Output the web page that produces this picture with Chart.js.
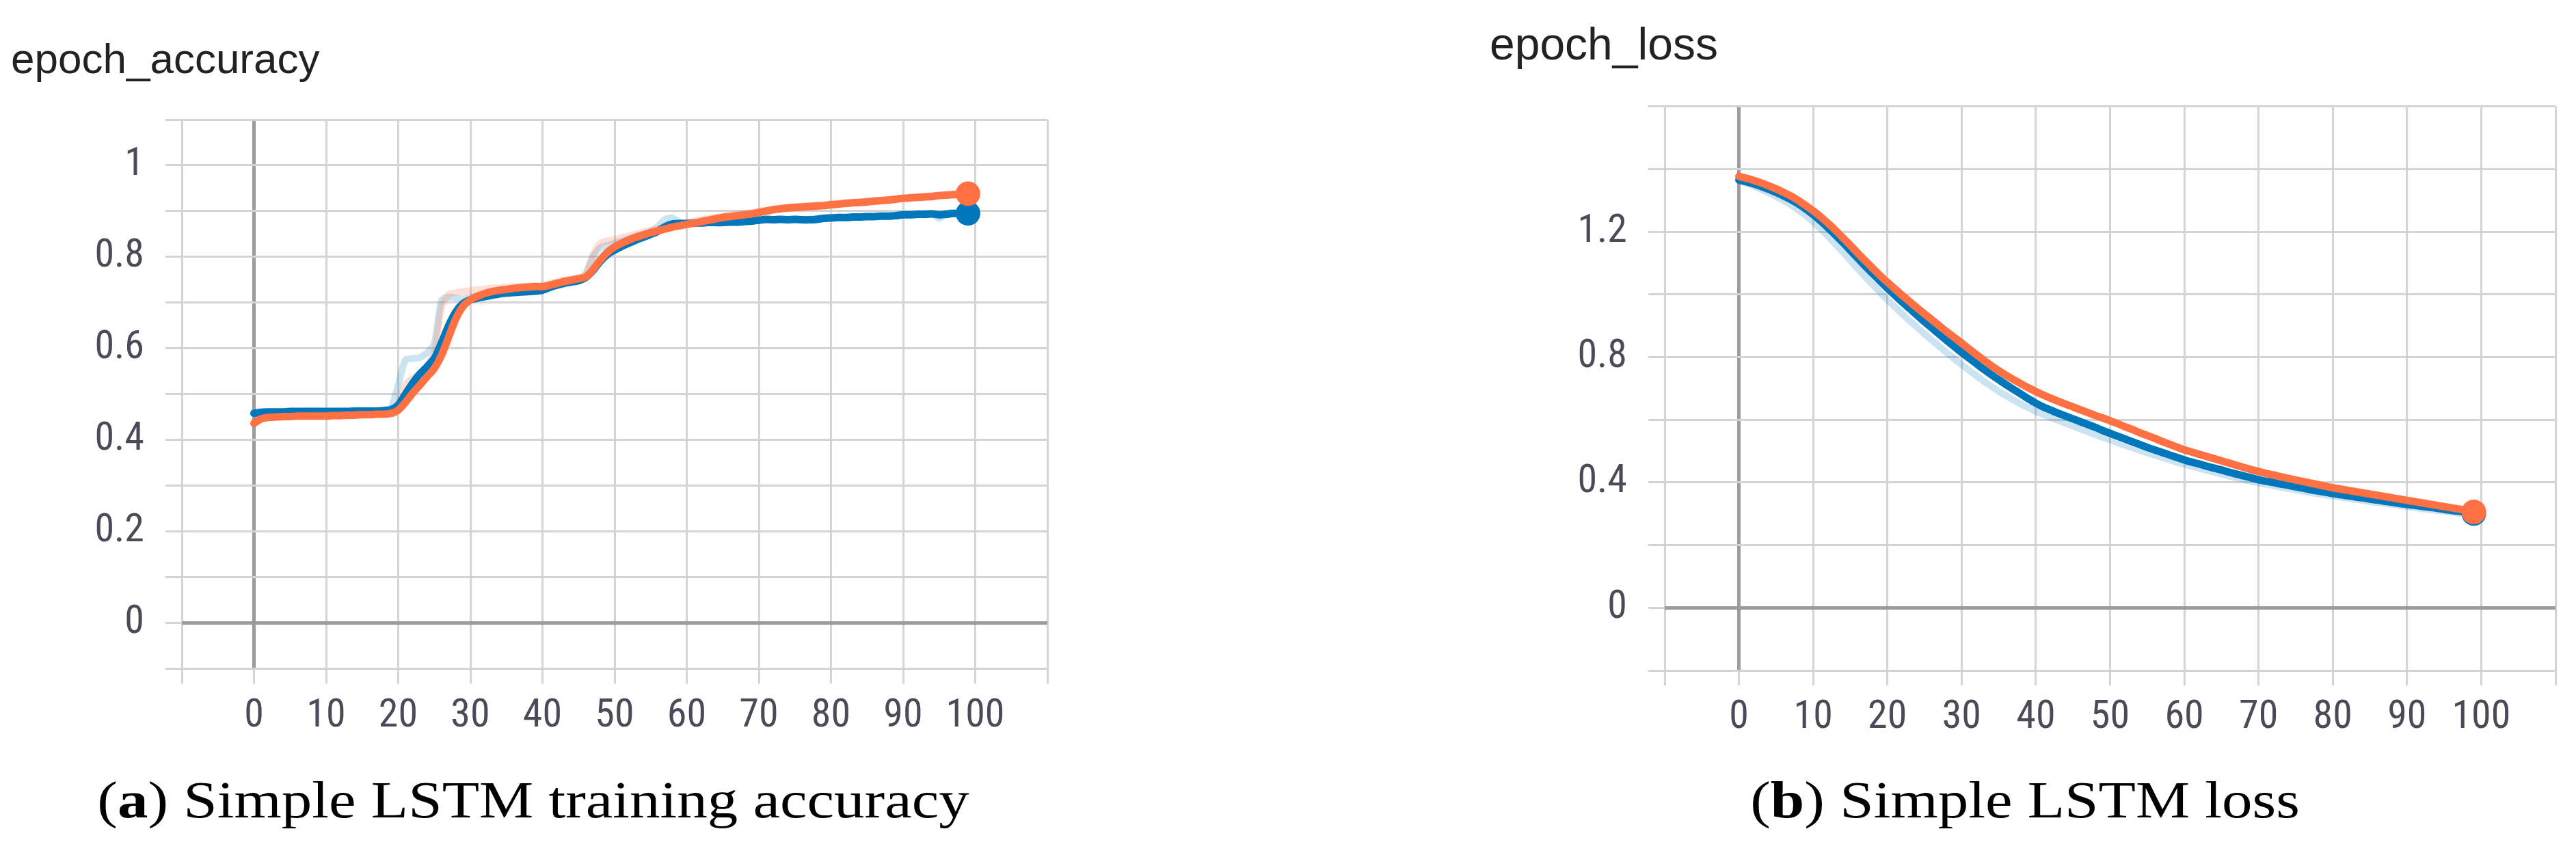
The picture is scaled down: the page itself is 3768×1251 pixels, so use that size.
<!DOCTYPE html>
<html>
<head>
<meta charset="utf-8">
<script src="https://cdn.jsdelivr.net/npm/chart.js@4.4.1/dist/chart.umd.min.js"></script>
<style>
  html, body { margin: 0; padding: 0; background: #ffffff; }
  body { width: 3768px; height: 1251px; position: relative; overflow: hidden; }
  canvas { position: absolute; top: 0; }
  #c1 { left: 16px; }
  #c2 { left: 2179px; }
  .cap { position: absolute; top: 1132px; width: 1400px; text-align: center;
         font-family: 'Liberation Serif', 'DejaVu Serif', serif; font-size: 77px;
         line-height: 77px; color: #000; white-space: nowrap;
         transform: scaleX(1.156); transform-origin: 50% 50%; }
  #cap1 { left: 80px; }
  #cap2 { left: 2262px; }
</style>
</head>
<body>
<canvas id="c1" width="1544" height="1110"></canvas>
<canvas id="c2" width="1589" height="1110"></canvas>
<div class="cap" id="cap1">(<b>a</b>) Simple LSTM training accuracy</div>
<div class="cap" id="cap2">(<b>b</b>) Simple LSTM loss</div>
<script>
// ---------- data ----------
const epochs = [
  0,1,2,3,4,5,6,7,8,9,10,11,12,13,14,15,16,17,18,19,
  20,21,22,23,24,25,26,27,28,29,30,31,32,33,34,35,36,37,38,39,
  40,41,42,43,44,45,46,47,48,49,50,51,52,53,54,55,56,57,58,59,
  60,61,62,63,64,65,66,67,68,69,70,71,72,73,74,75,76,77,78,79,
  80,81,82,83,84,85,86,87,88,89,90,91,92,93,94,95,96,97,98,99
];

const xTickLabels = ['0','10','20','30','40','50','60','70','80','90','100'];
const accYTickLabels = ['0','0.2','0.4','0.6','0.8','1'];
const lossYTickLabels = ['0','0.4','0.8','1.2'];

// accuracy, smoothed (blue run)
const accBlue = [
  0.458,0.460,0.461,0.461,0.461,0.462,0.462,0.462,0.462,0.462,
  0.462,0.462,0.462,0.462,0.463,0.463,0.463,0.463,0.464,0.466,
  0.476,0.500,0.524,0.544,0.560,0.578,0.612,0.650,0.680,0.698,
  0.706,0.710,0.713,0.716,0.719,0.721,0.722,0.723,0.724,0.725,
  0.727,0.733,0.738,0.742,0.745,0.748,0.755,0.770,0.790,0.805,
  0.815,0.823,0.830,0.837,0.843,0.849,0.856,0.866,0.872,0.873,
  0.873,0.874,0.874,0.875,0.875,0.875,0.876,0.876,0.877,0.878,
  0.880,0.882,0.881,0.882,0.881,0.882,0.881,0.881,0.882,0.884,
  0.885,0.886,0.886,0.887,0.887,0.888,0.888,0.889,0.889,0.890,
  0.892,0.892,0.893,0.893,0.894,0.892,0.893,0.895,0.894,0.895
];
// accuracy, smoothed (orange run)
const accOrange = [
  0.436,0.446,0.449,0.450,0.451,0.451,0.452,0.452,0.452,0.452,
  0.452,0.453,0.453,0.454,0.454,0.455,0.455,0.456,0.456,0.458,
  0.465,0.482,0.502,0.520,0.538,0.556,0.585,0.625,0.665,0.692,
  0.706,0.714,0.720,0.724,0.727,0.729,0.731,0.733,0.734,0.735,
  0.735,0.738,0.742,0.746,0.749,0.752,0.756,0.772,0.793,0.810,
  0.822,0.830,0.837,0.843,0.848,0.853,0.857,0.861,0.865,0.868,
  0.871,0.874,0.877,0.880,0.883,0.886,0.888,0.890,0.892,0.894,
  0.897,0.900,0.903,0.905,0.907,0.908,0.909,0.910,0.911,0.912,
  0.914,0.915,0.917,0.918,0.919,0.920,0.922,0.923,0.924,0.926,
  0.928,0.929,0.930,0.931,0.932,0.934,0.935,0.936,0.937,0.938
];
// accuracy, raw (faint)
const accBlueRaw = [
  0.460,0.462,0.462,0.461,0.462,0.463,0.462,0.462,0.463,0.462,
  0.462,0.461,0.463,0.462,0.463,0.464,0.463,0.464,0.465,0.470,
  0.520,0.575,0.578,0.580,0.590,0.610,0.705,0.712,0.710,0.708,
  0.712,0.714,0.716,0.720,0.722,0.723,0.723,0.724,0.725,0.726,
  0.730,0.738,0.742,0.745,0.748,0.750,0.762,0.800,0.820,0.825,
  0.830,0.835,0.840,0.845,0.850,0.856,0.866,0.882,0.885,0.876,
  0.873,0.875,0.874,0.876,0.875,0.876,0.877,0.876,0.878,0.880,
  0.884,0.881,0.882,0.883,0.880,0.883,0.880,0.882,0.884,0.886,
  0.886,0.887,0.886,0.888,0.888,0.889,0.888,0.890,0.890,0.891,
  0.893,0.892,0.894,0.893,0.895,0.884,0.895,0.897,0.894,0.896
];
const accOrangeRaw = [
  0.440,0.450,0.451,0.451,0.452,0.452,0.452,0.453,0.452,0.453,
  0.453,0.454,0.454,0.455,0.455,0.456,0.456,0.457,0.457,0.460,
  0.480,0.520,0.535,0.545,0.560,0.590,0.690,0.718,0.722,0.724,
  0.726,0.728,0.730,0.732,0.733,0.734,0.735,0.736,0.736,0.736,
  0.737,0.742,0.746,0.750,0.752,0.755,0.762,0.805,0.830,0.835,
  0.838,0.842,0.846,0.850,0.855,0.858,0.862,0.866,0.869,0.872,
  0.875,0.878,0.881,0.884,0.887,0.889,0.891,0.893,0.895,0.897,
  0.900,0.903,0.905,0.907,0.909,0.910,0.911,0.912,0.913,0.914,
  0.916,0.917,0.918,0.919,0.920,0.922,0.923,0.924,0.926,0.927,
  0.929,0.930,0.931,0.932,0.934,0.935,0.936,0.937,0.938,0.939
];

// loss, smoothed
const lossOrange = [
  1.377,1.371,1.364,1.356,1.347,1.337,1.326,1.314,1.300,1.284,
  1.267,1.248,1.227,1.205,1.181,1.157,1.132,1.108,1.084,1.061,
  1.039,1.018,0.997,0.977,0.957,0.938,0.919,0.900,0.881,0.863,
  0.845,0.826,0.808,0.790,0.773,0.757,0.742,0.728,0.715,0.702,
  0.690,0.679,0.669,0.659,0.650,0.641,0.632,0.623,0.614,0.606,
  0.597,0.588,0.578,0.569,0.559,0.550,0.541,0.531,0.522,0.513,
  0.504,0.497,0.490,0.483,0.476,0.469,0.462,0.455,0.448,0.441,
  0.435,0.429,0.424,0.418,0.413,0.408,0.403,0.398,0.393,0.388,
  0.383,0.379,0.375,0.371,0.367,0.363,0.359,0.355,0.351,0.347,
  0.343,0.339,0.335,0.331,0.327,0.323,0.319,0.315,0.311,0.306
];
const lossBlue = [
  1.366,1.360,1.353,1.345,1.336,1.326,1.315,1.303,1.289,1.273,
  1.255,1.235,1.213,1.190,1.166,1.141,1.116,1.091,1.067,1.043,
  1.020,0.998,0.976,0.955,0.934,0.913,0.893,0.873,0.853,0.834,
  0.815,0.797,0.779,0.761,0.744,0.728,0.712,0.697,0.682,0.667,
  0.653,0.641,0.631,0.621,0.612,0.603,0.594,0.585,0.576,0.566,
  0.557,0.548,0.539,0.530,0.521,0.512,0.504,0.496,0.488,0.480,
  0.472,0.465,0.459,0.452,0.446,0.440,0.433,0.427,0.421,0.415,
  0.409,0.404,0.400,0.395,0.391,0.386,0.382,0.377,0.373,0.369,
  0.365,0.361,0.358,0.354,0.351,0.347,0.344,0.340,0.337,0.333,
  0.330,0.327,0.324,0.321,0.318,0.314,0.311,0.308,0.305,0.301
];
// loss, raw (faint)
const lossBlueRaw = [
  1.362,1.355,1.346,1.336,1.325,1.313,1.300,1.286,1.270,1.252,
  1.232,1.210,1.186,1.161,1.135,1.109,1.083,1.057,1.032,1.007,
  0.983,0.960,0.938,0.916,0.895,0.874,0.854,0.834,0.814,0.795,
  0.776,0.758,0.740,0.723,0.707,0.691,0.677,0.663,0.650,0.638,
  0.627,0.617,0.607,0.598,0.589,0.580,0.571,0.562,0.553,0.544,
  0.536,0.527,0.519,0.511,0.503,0.495,0.487,0.480,0.472,0.465,
  0.458,0.452,0.445,0.439,0.433,0.427,0.421,0.415,0.409,0.404,
  0.399,0.394,0.390,0.385,0.381,0.377,0.372,0.368,0.364,0.360,
  0.357,0.353,0.350,0.346,0.343,0.339,0.336,0.333,0.330,0.326,
  0.323,0.320,0.317,0.314,0.311,0.308,0.305,0.302,0.299,0.296
];

// ---------- styling ----------
const BLUE = '#0077bb';
const ORANGE = '#ff7043';
const BLUE_FAINT = 'rgba(0,119,187,0.20)';
const ORANGE_FAINT = 'rgba(255,112,67,0.22)';
const GRID = '#d4d4d4';
const ZERO = '#9c9c9c';
const TICK_COLOR = '#4a4a58';
const TICK_FONT = { family: "'Liberation Sans Narrow', 'Roboto Condensed', 'Roboto', sans-serif", size: 58, weight: 'normal', lineHeight: 1.2 };

function pts(vals) { return vals.map((v, i) => ({ x: epochs[i], y: v })); }
function fmt(v) { return String(Math.round(v * 10) / 10); }
const lastDot = (ctx) => (ctx.dataIndex === epochs.length - 1 ? 18 : 0);

function mainSet(label, vals, color, order) {
  return { label, data: pts(vals), borderColor: color, backgroundColor: color, borderWidth: 11,
           pointRadius: lastDot, pointHoverRadius: lastDot, pointBackgroundColor: color, pointBorderWidth: 0,
           tension: 0.25, borderCapStyle: 'round', borderJoinStyle: 'round', fill: false, order };
}
function faintSet(label, vals, color, order) {
  return { label, data: pts(vals), borderColor: color, borderWidth: 10, pointRadius: 0,
           tension: 0.2, borderCapStyle: 'round', borderJoinStyle: 'round', fill: false, order };
}
function gridOpts(tickLen) {
  return {
    color: (c) => (c.tick && Math.abs(c.tick.value) < 1e-9 ? ZERO : GRID),
    lineWidth: (c) => (c.tick && Math.abs(c.tick.value) < 1e-9 ? 5 : 3),
    tickColor: GRID, tickWidth: 3, tickLength: tickLen, drawTicks: true, drawOnChartArea: true
  };
}

function makeChart(id, cfg) {
  return new Chart(document.getElementById(id), {
    type: 'line',
    data: { datasets: cfg.datasets },
    options: {
      responsive: false, animation: false, events: [],
      layout: { padding: { left: 0, right: cfg.padRight, top: 0, bottom: 0 } },
      plugins: {
        legend: { display: false }, tooltip: { enabled: false },
        title: { display: true, text: cfg.title, align: 'start', color: '#222222',
                 font: { family: "'Liberation Sans', Arial, sans-serif", size: cfg.titleSize, weight: 'normal', lineHeight: 1.2 },
                 padding: { top: cfg.titleTop, bottom: cfg.titleBottom } }
      },
      scales: {
        x: {
          type: 'linear', min: -10, max: 110,
          border: { display: false },
          grid: gridOpts(22),
          ticks: { stepSize: 10, autoSkip: false, maxRotation: 0, minRotation: 0, padding: 13,
                   color: TICK_COLOR, font: TICK_FONT,
                   callback: (v) => { const s = String(Math.round(v)); return xTickLabels.includes(s) ? s : ''; } },
          afterFit: (s) => { s.height = cfg.xHeight; }
        },
        y: {
          type: 'linear', min: cfg.yMin, max: cfg.yMax,
          border: { display: false },
          grid: gridOpts(24),
          ticks: { stepSize: cfg.yStep, autoSkip: false, padding: 31, color: TICK_COLOR, font: TICK_FONT,
                   callback: (v) => { const s = fmt(v); return cfg.yLabels.includes(s) ? s : ''; } },
          afterFit: (s) => { s.width = cfg.yWidth; }
        }
      }
    }
  });
}

makeChart('c1', {
  title: 'epoch_accuracy', titleSize: 62, titleTop: 53, titleBottom: 47.6,
  padRight: 28, xHeight: 131.7, yWidth: 250,
  yMin: -0.1, yMax: 1.1, yStep: 0.1, yLabels: accYTickLabels,
  datasets: [
    mainSet('train', accBlue, BLUE, 1),
    mainSet('validation', accOrange, ORANGE, 0),
    faintSet('train (raw)', accBlueRaw, BLUE_FAINT, 3),
    faintSet('validation (raw)', accOrangeRaw, ORANGE_FAINT, 2)
  ]
});

makeChart('c2', {
  title: 'epoch_loss', titleSize: 66, titleTop: 29, titleBottom: 47.6,
  padRight: 30, xHeight: 129, yWidth: 256,
  yMin: -0.2, yMax: 1.6, yStep: 0.2, yLabels: lossYTickLabels,
  datasets: [
    mainSet('train', lossBlue, BLUE, 1),
    mainSet('validation', lossOrange, ORANGE, 0),
    faintSet('train (raw)', lossBlueRaw, BLUE_FAINT, 2)
  ]
});
</script>
</body>
</html>
